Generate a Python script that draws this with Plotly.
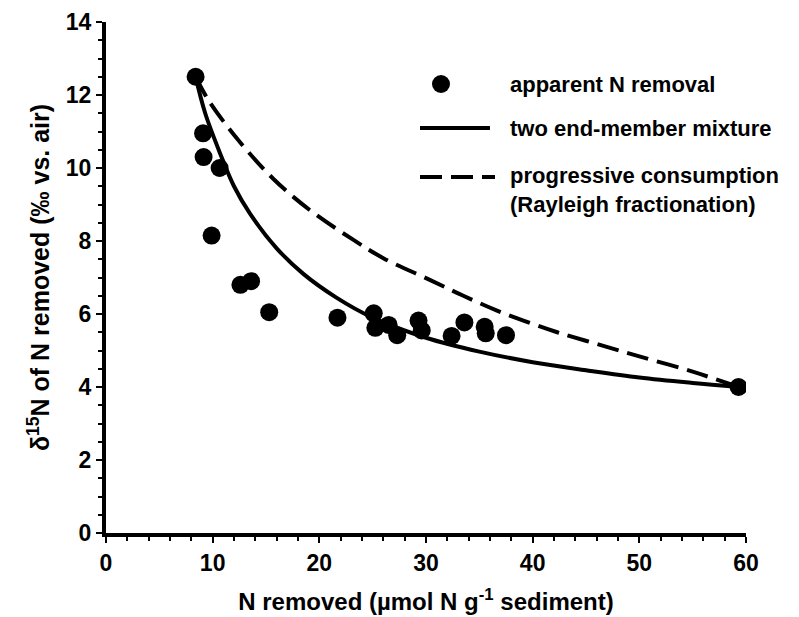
import plotly.graph_objects as go

# apparent N removal (data points)
obs_x = [8.4, 9.1, 9.15, 10.65, 9.9, 12.6, 13.6, 15.3, 21.7, 25.1, 25.25, 26.5, 27.3,
         29.3, 29.6, 32.4, 33.6, 35.5, 35.6, 37.5, 59.3]
obs_y = [12.5, 10.95, 10.3, 10.0, 8.15, 6.8, 6.9, 6.05, 5.9, 6.02, 5.62, 5.7, 5.42,
         5.82, 5.55, 5.4, 5.77, 5.65, 5.47, 5.42, 4.0]

# two end-member mixture (solid curve)
mix_x = [8.4, 9.3, 10.7, 12.0, 13.5, 16.0, 18.5, 21.6, 25.0, 30.0, 35.0, 40.0, 45.0, 50.0, 55.0, 59.3]
mix_y = [12.5, 11.5, 10.4, 9.5, 8.75, 7.8, 7.1, 6.45, 5.9, 5.35, 4.97, 4.68, 4.46, 4.26, 4.11, 4.0]

# progressive consumption, Rayleigh fractionation (dashed curve)
ray_x = [8.4, 9.6, 12.3, 15.7, 19.1, 23.2, 26.0, 30.4, 33.5, 36.6, 39.8, 42.3, 46.0, 50.0, 55.0, 59.3]
ray_y = [12.5, 11.86, 10.8, 9.7, 8.85, 8.03, 7.53, 6.93, 6.5, 6.1, 5.75, 5.5, 5.18, 4.84, 4.42, 4.0]

legend_labels = ["apparent N removal", "two end-member mixture",
                 "progressive consumption<br>(Rayleigh fractionation)"]

FONT = "Liberation Sans, Arial, sans-serif"
FS = 22
W, H = 799, 617
ML, MR, MT, MB = 106, 53, 22, 84
PW, PH = W - ML - MR, H - MT - MB
DASH = "22px,9px"

fig = go.Figure()
fig.add_trace(go.Scatter(x=ray_x, y=ray_y, mode="lines", line=dict(color="black", width=4, dash=DASH),
                         line_shape="spline", showlegend=False))
fig.add_trace(go.Scatter(x=mix_x, y=mix_y, mode="lines", line=dict(color="black", width=4),
                         line_shape="spline", showlegend=False))
fig.add_trace(go.Scatter(x=obs_x, y=obs_y, mode="markers", marker=dict(color="black", size=18),
                         showlegend=False))

def px(xp):
    return (xp - ML) / PW

def py(yp):
    return (H - MB - yp) / PH

# manual legend
leg_text_x = 508
rows = [84, 128, 190]
fig.add_shape(type="circle", xref="paper", yref="paper", xsizemode="pixel", ysizemode="pixel",
              xanchor=px(441), yanchor=py(84), x0=-9, x1=9, y0=-9, y1=9,
              fillcolor="black", line=dict(color="black", width=0))
fig.add_shape(type="line", xref="paper", yref="paper", x0=px(420), x1=px(490), y0=py(128), y1=py(128),
              line=dict(color="black", width=4))
fig.add_shape(type="line", xref="paper", yref="paper", x0=px(420), x1=px(495), y0=py(177), y1=py(177),
              line=dict(color="black", width=4, dash=DASH))
for lab, yy in zip(legend_labels, rows):
    fig.add_annotation(text=lab, xref="paper", yref="paper", x=px(leg_text_x), y=py(yy),
                       xanchor="left", yanchor="middle", align="left", showarrow=False,
                       font=dict(family=FONT, size=FS, color="black", weight="bold"))

fig.update_layout(
    width=W, height=H, margin=dict(l=ML, r=MR, t=MT, b=MB),
    paper_bgcolor="white", plot_bgcolor="white",
    font=dict(family=FONT, size=FS, color="black", weight="bold"),
    xaxis=dict(range=[0, 60], tick0=0, dtick=10, showgrid=False, zeroline=False,
               showline=True, linecolor="black", linewidth=4, automargin=False,
               ticks="outside", ticklen=6, tickwidth=2, tickcolor="black",
               tickfont=dict(family=FONT, size=23, weight="bold"),
               minor=dict(dtick=2, ticks="outside", ticklen=4, tickwidth=2, tickcolor="black"),
               title=dict(text="N removed (µmol N g<sup>-1</sup> sediment)", standoff=20,
                          font=dict(family=FONT, size=24, weight="bold"))),
    yaxis=dict(range=[0, 14], tick0=0, dtick=2, showgrid=False, zeroline=False,
               showline=True, linecolor="black", linewidth=4, automargin=False,
               ticks="outside", ticklen=6, tickwidth=2, tickcolor="black",
               tickfont=dict(family=FONT, size=23, weight="bold"),
               minor=dict(dtick=0.5, ticks="outside", ticklen=4, tickwidth=2, tickcolor="black"),
               title=dict(text="δ<sup>15</sup>N of N removed (‰ vs. air)", standoff=10,
                          font=dict(family=FONT, size=25, weight="bold"))),
)

fig.write_html("out.html")
